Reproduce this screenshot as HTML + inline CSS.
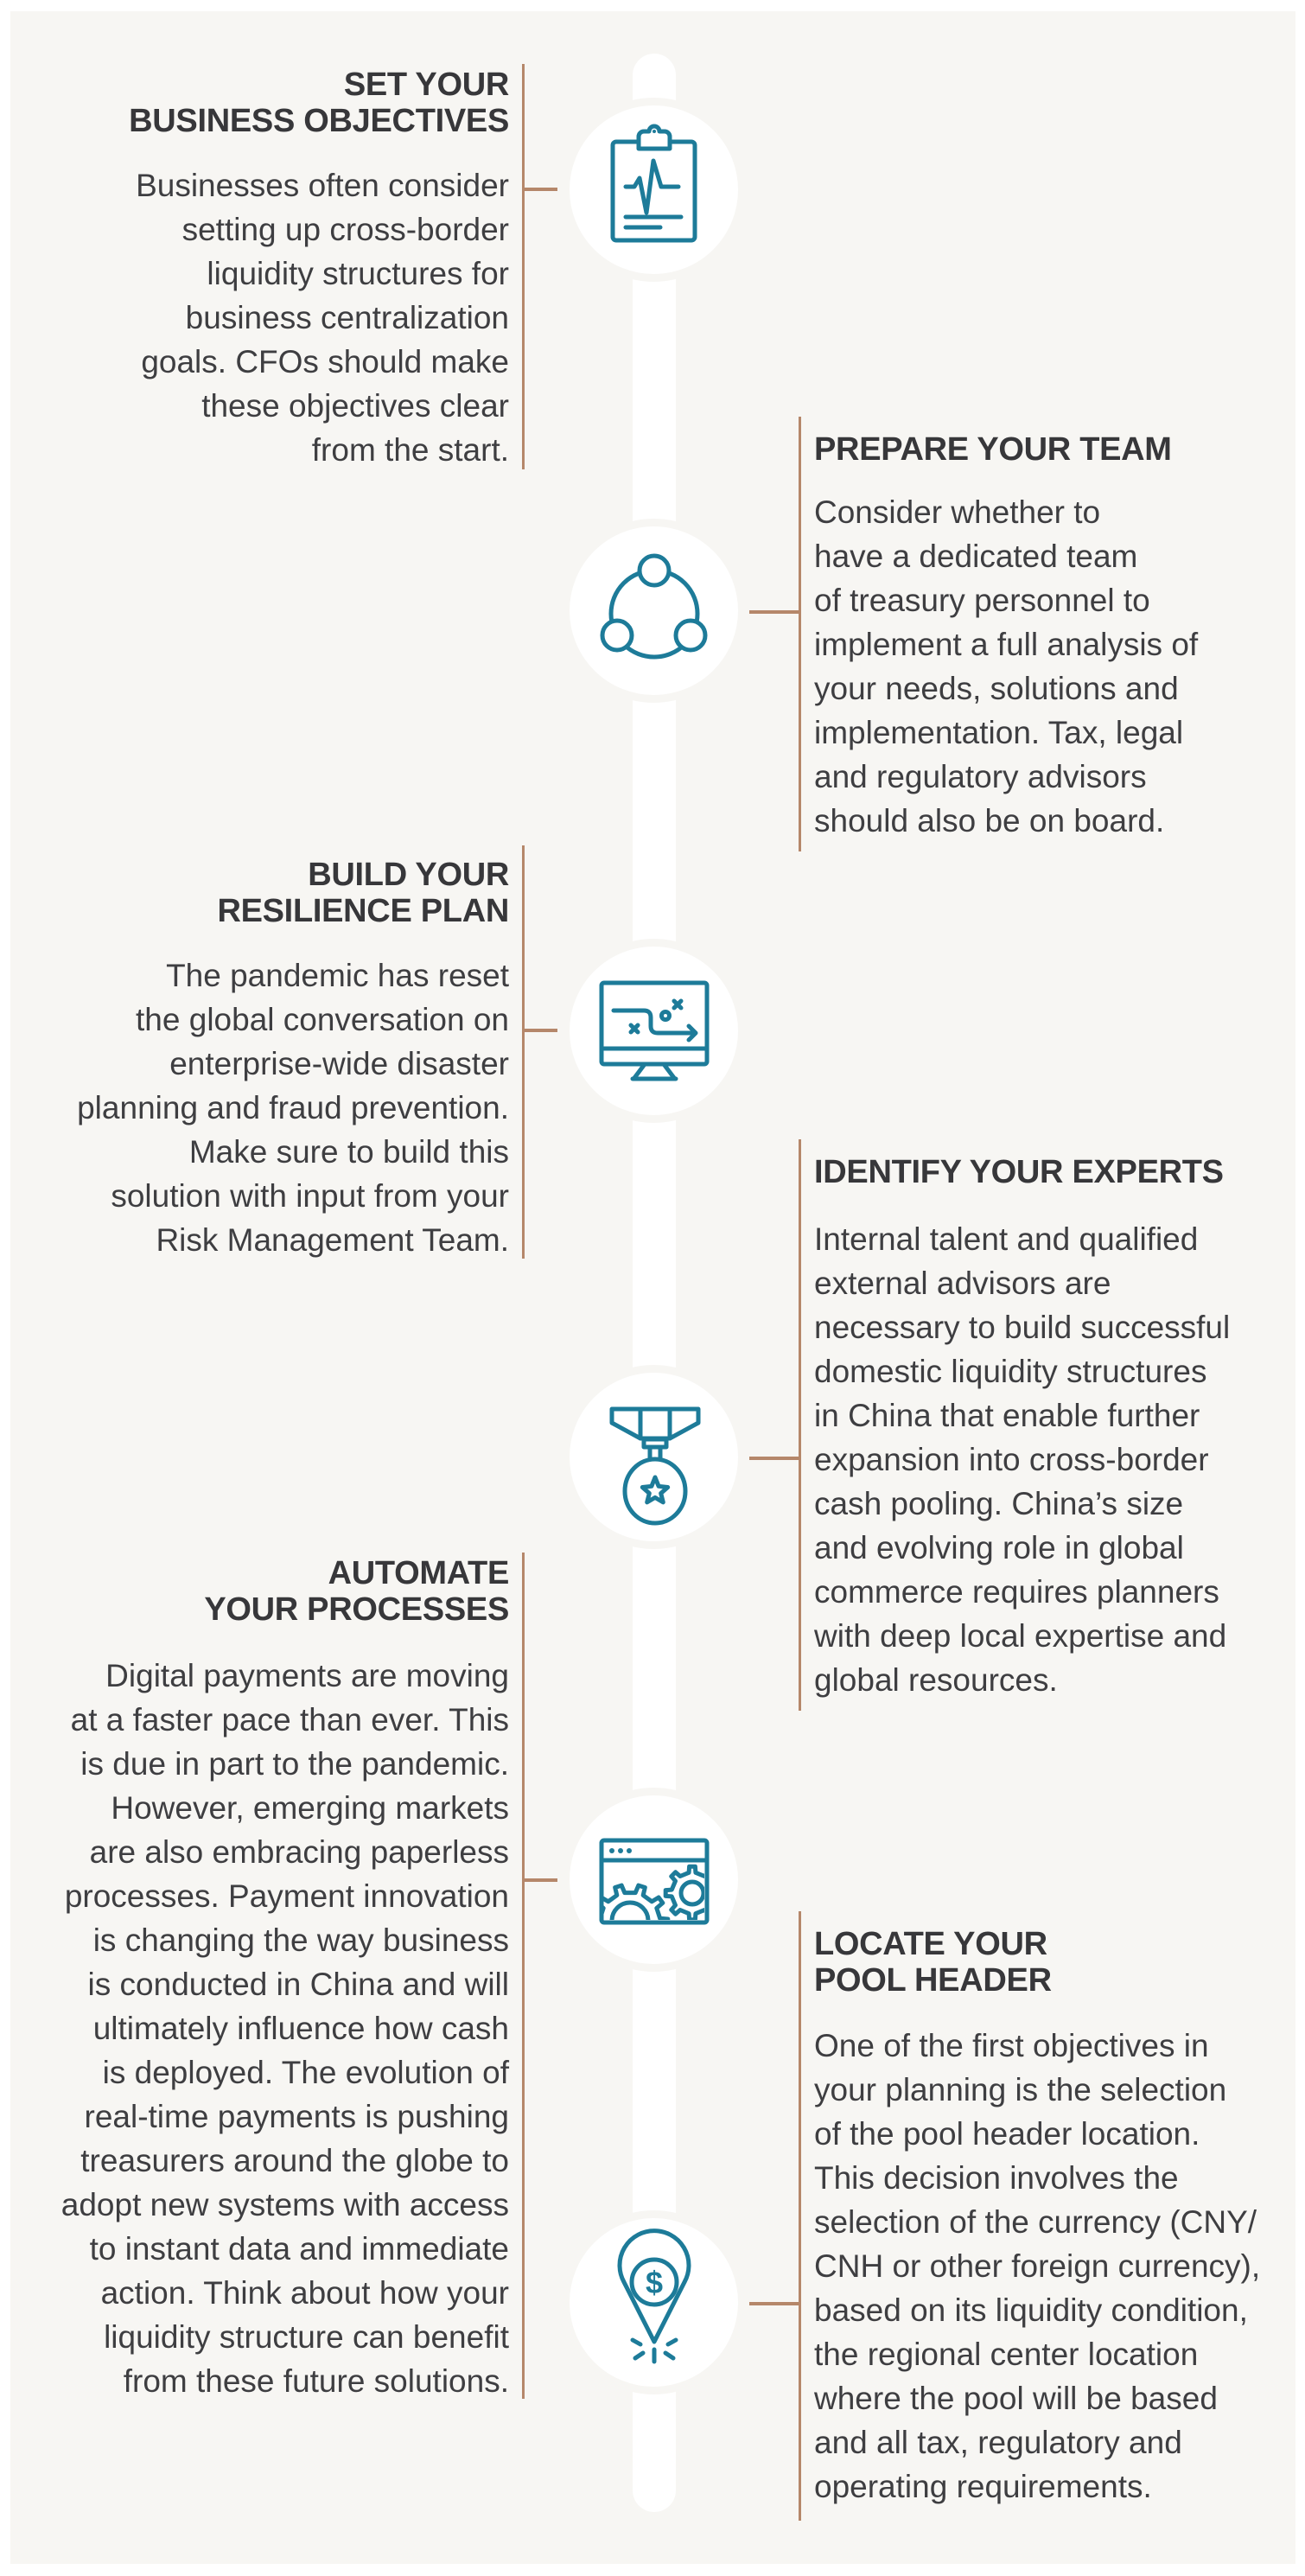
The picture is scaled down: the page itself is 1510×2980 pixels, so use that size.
<!DOCTYPE html>
<html><head><meta charset="utf-8">
<style>
html,body{margin:0;padding:0;background:#fff;}
body{width:1510px;height:2980px;position:relative;overflow:hidden;font-family:"Liberation Sans",Arial,sans-serif;}
.panel{position:absolute;left:12px;top:13px;width:1487px;height:2953px;background:#f7f6f3;}
.track{position:absolute;left:732px;top:62px;width:50px;height:2844px;background:#fff;border-radius:25px;}
.circ{position:absolute;width:195px;height:195px;border-radius:50%;background:#fff;border:9px solid #f7f6f3;}
.vl{position:absolute;width:3px;background:#b5876a;}
.tk{position:absolute;height:4px;background:#b5876a;}
.h{position:absolute;font-weight:bold;font-size:38px;line-height:42px;color:#37373a;white-space:nowrap;letter-spacing:-0.3px;}
.b{position:absolute;font-size:37px;line-height:51px;color:#3e3e41;white-space:nowrap;}
.L{right:921px;text-align:right;}
.R{left:942px;text-align:left;}
svg.ic{position:absolute;left:0;top:0;}
</style></head><body>
<div class="panel"></div>
<div class="track"></div>

<div class="circ" style="left:650px;top:113px"></div>
<div class="circ" style="left:650px;top:600px"></div>
<div class="circ" style="left:650px;top:1086px"></div>
<div class="circ" style="left:650px;top:1579px"></div>
<div class="circ" style="left:650px;top:2068px"></div>
<div class="circ" style="left:650px;top:2557px"></div>

<!-- connector lines -->
<div class="vl" style="left:604px;top:74px;height:469px"></div>
<div class="tk" style="left:604px;top:217px;width:41px"></div>
<div class="vl" style="left:924px;top:482px;height:503px"></div>
<div class="tk" style="left:867px;top:706px;width:60px"></div>
<div class="vl" style="left:604px;top:978px;height:478px"></div>
<div class="tk" style="left:604px;top:1190px;width:41px"></div>
<div class="vl" style="left:924px;top:1318px;height:661px"></div>
<div class="tk" style="left:867px;top:1685px;width:60px"></div>
<div class="vl" style="left:604px;top:1796px;height:979px"></div>
<div class="tk" style="left:604px;top:2173px;width:41px"></div>
<div class="vl" style="left:924px;top:2211px;height:705px"></div>
<div class="tk" style="left:867px;top:2663px;width:60px"></div>

<!-- text blocks -->
<div class="h L" style="top:77px">SET YOUR<br>BUSINESS OBJECTIVES</div>
<div class="b L" style="top:189px">Businesses often consider<br>setting up cross-border<br>liquidity structures for<br>business centralization<br>goals. CFOs should make<br>these objectives clear<br>from the start.</div>

<div class="h R" style="top:499px">PREPARE YOUR TEAM</div>
<div class="b R" style="top:567px">Consider whether to<br>have a dedicated team<br>of treasury personnel to<br>implement a full analysis of<br>your needs, solutions and<br>implementation. Tax, legal<br>and regulatory advisors<br>should also be on board.</div>

<div class="h L" style="top:991px">BUILD YOUR<br>RESILIENCE PLAN</div>
<div class="b L" style="top:1103px">The pandemic has reset<br>the global conversation on<br>enterprise-wide disaster<br>planning and fraud prevention.<br>Make sure to build this<br>solution with input from your<br>Risk Management Team.</div>

<div class="h R" style="top:1335px">IDENTIFY YOUR EXPERTS</div>
<div class="b R" style="top:1408px">Internal talent and qualified<br>external advisors are<br>necessary to build successful<br>domestic liquidity structures<br>in China that enable further<br>expansion into cross-border<br>cash pooling. China’s size<br>and evolving role in global<br>commerce requires planners<br>with deep local expertise and<br>global resources.</div>

<div class="h L" style="top:1799px">AUTOMATE<br>YOUR PROCESSES</div>
<div class="b L" style="top:1913px">Digital payments are moving<br>at a faster pace than ever. This<br>is due in part to the pandemic.<br>However, emerging markets<br>are also embracing paperless<br>processes. Payment innovation<br>is changing the way business<br>is conducted in China and will<br>ultimately influence how cash<br>is deployed. The evolution of<br>real-time payments is pushing<br>treasurers around the globe to<br>adopt new systems with access<br>to instant data and immediate<br>action. Think about how your<br>liquidity structure can benefit<br>from these future solutions.</div>

<div class="h R" style="top:2228px">LOCATE YOUR<br>POOL HEADER</div>
<div class="b R" style="top:2341px">One of the first objectives in<br>your planning is the selection<br>of the pool header location.<br>This decision involves the<br>selection of the currency (CNY/<br>CNH or other foreign currency),<br>based on its liquidity condition,<br>the regional center location<br>where the pool will be based<br>and all tax, regulatory and<br>operating requirements.</div>

<!-- icons -->
<svg class="ic" width="1510" height="2980" viewBox="0 0 1510 2980" fill="none" stroke="#1d7b99" stroke-width="5" stroke-linecap="round" stroke-linejoin="round">
  <defs>
    <clipPath id="bc"><rect x="698" y="2155" width="117" height="66"/></clipPath>
  </defs>
  <!-- 1 clipboard -->
  <rect x="709" y="164" width="95" height="114" rx="4"/>
  <path d="M739 172 v-14 a6 6 0 0 1 6 -6 h6 a6 6 0 0 1 12 0 h6 a6 6 0 0 1 6 6 v14 z" fill="#fff"/>
  <circle cx="757" cy="152" r="2" fill="#1d7b99" stroke="none"/>
  <path d="M724 216 h10 l6 -10 l8 40 l8 -60 l9 30 h20"/>
  <path d="M724 251 h64 M724 263 h40"/>
  <!-- 2 team -->
  <circle cx="757" cy="710" r="50"/>
  <circle cx="757" cy="660" r="17" fill="#fff"/>
  <circle cx="714" cy="735" r="17" fill="#fff"/>
  <circle cx="799" cy="735" r="17" fill="#fff"/>
  <!-- 3 monitor -->
  <rect x="696" y="1137" width="122" height="94" rx="3"/>
  <path d="M696 1213 h122"/>
  <path d="M746 1231 l-12 16 M768 1231 l12 16 M732 1248 h50"/>
  <path d="M710 1169 h35 q8 0 8 8 v10 q0 8 8 8 h42 M797 1187 l8 8 l-8 8"/>
  <circle cx="770" cy="1175" r="4.5"/>
  <path d="M730 1186 l8 8 M738 1186 l-8 8 M780 1158 l8 8 M788 1158 l-8 8"/>
  <!-- 4 medal -->
  <path d="M708 1630 h100 v16 l-33 18 h-34 l-33 -18 z"/>
  <path d="M741 1632 v32 M775 1632 v32"/>
  <rect x="745" y="1665" width="26" height="9"/>
  <path d="M752 1674 v12 M764 1674 v12"/>
  <ellipse cx="758" cy="1725" rx="35" ry="37"/>
  <path d="M758 1709 l4.1 10.3 l10.6 1.2 l-8 7 l2.6 10.4 l-9.3 -5.5 l-9.3 5.5 l2.6 -10.4 l-8 -7 l10.6 -1.2 z"/>
  <!-- 5 browser gears -->
  <rect x="696" y="2129" width="122" height="95" rx="3"/>
  <path d="M696 2152 h122"/>
  <circle cx="708" cy="2141" r="3" fill="#1d7b99" stroke="none"/>
  <circle cx="718" cy="2141" r="3" fill="#1d7b99" stroke="none"/>
  <circle cx="728" cy="2141" r="3" fill="#1d7b99" stroke="none"/>
  <g clip-path="url(#bc)">
    <path id="g1" d=""/>
    <path id="g2" d=""/>
    <path d="M708 2222 a21 21 0 0 1 42 0"/>
    <circle cx="801" cy="2190" r="13"/>
  </g>
  <!-- 6 pin -->
  <path d="M757 2709 L722 2640 A40 40 0 1 1 792 2640 Z"/>
  <circle cx="757" cy="2640" r="26"/>
  <text x="757" y="2653" text-anchor="middle" font-family="Liberation Sans, sans-serif" font-size="36" font-weight="bold" fill="#1d7b99" stroke="none">$</text>
  <path d="M757 2718 v14 M741 2712 l-9 -5 M773 2712 l9 -5 M744 2722 l-9 6 M770 2722 l9 6"/>
</svg>
<script>
function gear(cx,cy,n,ro,ri,tw){
  var d="",pts=[];
  for(var i=0;i<n;i++){
    var a=i*2*Math.PI/n, h=tw/2, hb=h*1.5;
    [[a-hb,ri],[a-h,ro],[a+h,ro],[a+hb,ri]].forEach(function(p){
      pts.push((cx+p[1]*Math.cos(p[0])).toFixed(1)+" "+(cy+p[1]*Math.sin(p[0])).toFixed(1));
    });
  }
  return "M"+pts.join(" L")+" Z";
}
document.getElementById("g1").setAttribute("d",gear(729,2224,10,44,35,0.18));
document.getElementById("g2").setAttribute("d",gear(801,2190,8,31,24,0.22));
</script>
</body></html>
